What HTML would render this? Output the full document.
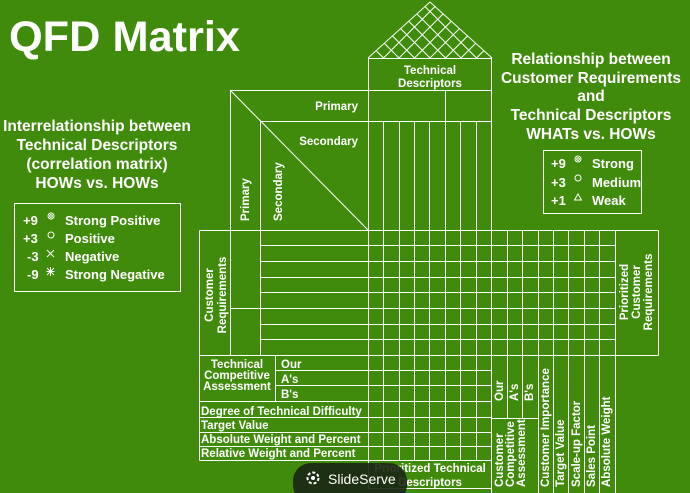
<!DOCTYPE html>
<html><head><meta charset="utf-8"><style>
html,body{margin:0;padding:0;background:#418b0c;}
svg{display:block}
text{font-family:"Liberation Sans",Arial,sans-serif;font-weight:bold;fill:#fff}
</style></head><body>
<svg width="690" height="493" viewBox="0 0 690 493" xmlns="http://www.w3.org/2000/svg">
<rect width="690" height="493" fill="#418b0c"/>
<text x="9" y="51" font-size="43" textLength="231" lengthAdjust="spacingAndGlyphs">QFD Matrix</text>

<!-- left heading -->
<g font-size="15.5" text-anchor="middle">
<text x="97" y="131">Interrelationship between</text>
<text x="97" y="150">Technical Descriptors</text>
<text x="97" y="169">(correlation matrix)</text>
<text x="97" y="188">HOWs vs. HOWs</text>
</g>
<rect x="14.5" y="203.5" width="166" height="88" fill="none" stroke="#fff" stroke-width="1"/>
<g font-size="13">
<text x="23" y="225">+9</text><text x="65" y="225">Strong Positive</text>
<text x="23" y="243">+3</text><text x="65" y="243">Positive</text>
<text x="27" y="261">-3</text><text x="65" y="261">Negative</text>
<text x="27" y="279">-9</text><text x="65" y="279">Strong Negative</text>
</g>
<g fill="none" stroke="#fff" stroke-width="1">
<circle cx="51" cy="216" r="3"/><circle cx="51" cy="216" r="1.3"/>
<circle cx="51" cy="235" r="3"/>
<path d="M47 250l7 7M54 250l-7 7"/>
<path d="M47 268l7 7M54 268l-7 7M50.5 267v9M46.5 271.5h8"/>
</g>

<!-- right heading -->
<g font-size="15.5" text-anchor="middle">
<text x="591" y="64">Relationship between</text>
<text x="591" y="83">Customer Requirements</text>
<text x="591" y="101">and</text>
<text x="591" y="120">Technical Descriptors</text>
<text x="591" y="139">WHATs vs. HOWs</text>
</g>
<rect x="543.5" y="150.5" width="98" height="63" fill="none" stroke="#fff" stroke-width="1"/>
<g font-size="13">
<text x="551" y="168">+9</text><text x="592" y="168">Strong</text>
<text x="551" y="187">+3</text><text x="592" y="187">Medium</text>
<text x="551" y="205">+1</text><text x="592" y="205">Weak</text>
</g>
<g fill="none" stroke="#fff" stroke-width="1">
<circle cx="578" cy="159" r="3"/><circle cx="578" cy="159" r="1.3"/>
<circle cx="578" cy="178" r="3"/>
<path d="M574.5 200l3.5-6 3.5 6z"/>
</g>

<!-- roof -->
<defs><clipPath id="roof"><path d="M368 58L430 2L492 58Z"/></clipPath></defs>
<g stroke="#fff" stroke-width="1" fill="none">
<path d="M368 58L430 2L492 58"/>
<g clip-path="url(#roof)">
<path d="M383.5 58l62-62M399 58l62-62M414.5 58l62-62M430 58l62-62M445.5 58l62-62M461 58l62-62M476.5 58l62-62M352.5 58l62-62M337 58l62-62M321.5 58l62-62M306 58l62-62"/>
<path d="M383.5 58l-62-62M399 58l-62-62M414.5 58l-62-62M430 58l-62-62M445.5 58l-62-62M461 58l-62-62M476.5 58l-62-62M492 58l-62-62M507.5 58l-62-62M523 58l-62-62M538.5 58l-62-62"/>
</g>
</g>

<g stroke="#fff" stroke-width="1" fill="none" shape-rendering="crispEdges">
<rect x="368.5" y="58.5" width="123" height="32"/>
<path d="M230.5 90.5H491.5M260.5 121.5H491.5M445.5 90.5V121.5"/>
<path d="M230.5 90.5V355.5M260.5 121.5V355.5"/>
<path d="M368.5 58.5V488.5M383.5 121.5V460.5M399.5 121.5V460.5M414.5 121.5V460.5M429.5 121.5V460.5M445.5 121.5V460.5M460.5 121.5V460.5M476.5 121.5V460.5M491.5 58.5V493"/>
<path d="M199.5 230.5H658.5M199.5 230.5V460.5M199.5 355.5H658.5"/>
<path d="M260.5 245.5H615.5M260.5 261.5H615.5M260.5 277.5H615.5M260.5 292.5H615.5M230.5 308.5H615.5M260.5 324.5H615.5M260.5 339.5H615.5"/>
<path d="M507.5 230.5V418.5M522.5 230.5V418.5M538.5 230.5V493M553.5 230.5V493M568.5 230.5V493M584.5 230.5V493M599.5 230.5V493M615.5 230.5V493M658.5 230.5V355.5M491.5 418.5H538.5"/>
<path d="M275.5 355.5V401.5M275.5 370.5H491.5M275.5 385.5H491.5M199.5 401.5H491.5"/>
<path d="M199.5 417.5H491.5M199.5 432.5H491.5M199.5 446.5H491.5M199.5 460.5H491.5M368.5 488.5H491.5"/>
</g>
<line x1="230" y1="90" x2="368" y2="230" stroke="#fff" stroke-width="1"/>

<g font-size="11.5">
<text x="430" y="74" text-anchor="middle">Technical</text>
<text x="430" y="87" text-anchor="middle">Descriptors</text>
<text x="358" y="110" text-anchor="end">Primary</text>
<text x="358" y="145" text-anchor="end">Secondary</text>
<text transform="translate(249,221) rotate(-90)">Primary</text>
<text transform="translate(282,221) rotate(-90)">Secondary</text>
<text transform="translate(213,295) rotate(-90)" text-anchor="middle">Customer</text>
<text transform="translate(226,295) rotate(-90)" text-anchor="middle">Requirements</text>
<text x="237" y="368" text-anchor="middle">Technical</text>
<text x="237" y="379" text-anchor="middle">Competitive</text>
<text x="237" y="390" text-anchor="middle">Assessment</text>
<text x="281" y="368">Our</text>
<text x="281" y="383">A's</text>
<text x="281" y="398">B's</text>
<text x="201" y="415">Degree of Technical Difficulty</text>
<text x="201" y="429">Target Value</text>
<text x="201" y="443">Absolute Weight and Percent</text>
<text x="201" y="457">Relative Weight and Percent</text>
<text x="430" y="472" text-anchor="middle">Prioritized Technical</text>
<text x="430" y="486" text-anchor="middle">Descriptors</text>
<text transform="translate(503,401) rotate(-90)">Our</text>
<text transform="translate(518,401) rotate(-90)">A's</text>
<text transform="translate(533,401) rotate(-90)">B's</text>
<text transform="translate(503,487) rotate(-90)">Customer</text>
<text transform="translate(514,487) rotate(-90)">Competitive</text>
<text transform="translate(525,487) rotate(-90)">Assessment</text>
<text transform="translate(549,487) rotate(-90)">Customer Importance</text>
<text transform="translate(564,487) rotate(-90)">Target Value</text>
<text transform="translate(580,487) rotate(-90)">Scale-up Factor</text>
<text transform="translate(595,487) rotate(-90)">Sales Point</text>
<text transform="translate(610,487) rotate(-90)">Absolute Weight</text>
<text transform="translate(628,292) rotate(-90)" text-anchor="middle">Prioritized</text>
<text transform="translate(640,292) rotate(-90)" text-anchor="middle">Customer</text>
<text transform="translate(652,292) rotate(-90)" text-anchor="middle">Requirements</text>
</g>

<rect x="293" y="463" width="114" height="40" rx="18" fill="#1b2614" fill-opacity="0.9"/>
<g fill="#fff">
<circle cx="313" cy="478" r="5.5" fill="none" stroke="#fff" stroke-width="2" stroke-dasharray="3 2"/>
<circle cx="313" cy="478" r="2"/>
</g>
<text x="328" y="484" font-size="14" style="font-weight:normal">SlideServe</text>
</svg>
</body></html>
